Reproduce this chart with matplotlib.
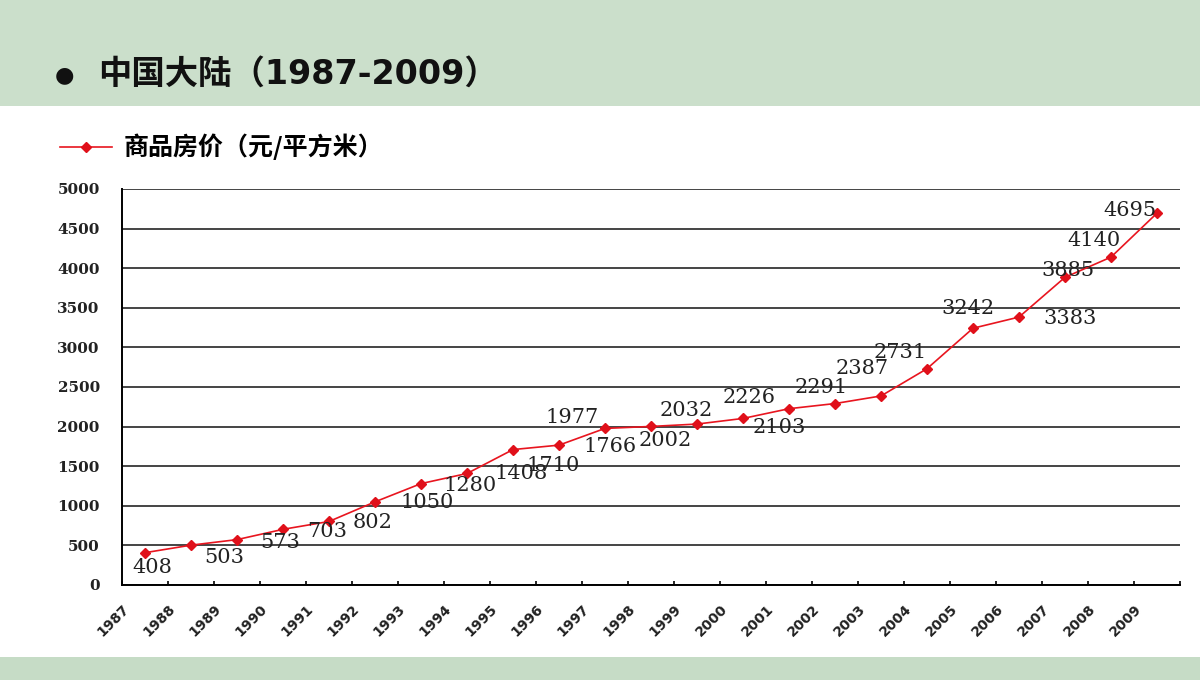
import numpy as np
import matplotlib.pyplot as plt
from matplotlib.patches import Rectangle

plt.rcParams['font.family'] = ['Noto Sans CJK SC', 'DejaVu Sans']

# data
years = [str(y) for y in range(1987, 2010)]
prices = [408, 503, 573, 703, 802, 1050, 1280, 1408, 1710, 1766, 1977, 2002,
          2032, 2103, 2226, 2291, 2387, 2731, 3242, 3383, 3885, 4140, 4695]
series_name = "商品房价（元/平方米）"
title = "中国大陆（1987-2009）"
yticks = list(range(0, 5001, 500))

# label offsets in pixels (dx right, dy down)
label_offsets = [(7, 15), (33, 12), (43, 3), (44, 2), (44, 1), (52, 1), (49, 2),
                 (54, 0), (40, 16), (51, 1), (-33, -11), (14, 14), (-11, -14),
                 (36, 9), (-40, -11), (-14, -16), (-19, -27), (-27, -16),
                 (-5, -20), (51, 1), (3, -7), (-17, -17), (-27, -3)]

fig = plt.figure(figsize=(12, 6.8), dpi=100)
fig.patch.set_facecolor('white')

# green bands top and bottom
fig.patches.append(Rectangle((0, 1 - 106 / 680), 1, 106 / 680, transform=fig.transFigure,
                             facecolor='#cbdfcb', edgecolor='none', zorder=0))
fig.patches.append(Rectangle((0, 0), 1, 23 / 680, transform=fig.transFigure,
                             facecolor='#c6dcc6', edgecolor='none', zorder=0))

fig.text(55 / 1200, 1 - 75 / 680, "●", fontsize=16, color='#111111', va='center', ha='left',
         family=['DejaVu Sans'])
fig.text(98 / 1200, 1 - 74 / 680, title, fontsize=24, fontweight='bold', color='#111111',
         va='center', ha='left', family=['DejaVu Sans', 'Noto Sans CJK SC'])

ax = fig.add_axes([122 / 1200, 1 - 585 / 680, 1058 / 1200, 396 / 680])
x = np.arange(len(prices)) + 0.5
line, = ax.plot(x, prices, color='#e8151f', lw=1.2, marker='D', markersize=5,
                markerfacecolor='#e0101a', markeredgecolor='#e0101a', label=series_name)

for xi, v, (dx, dy) in zip(x, prices, label_offsets):
    ax.annotate(str(v), (xi, v), xytext=(dx, -dy), textcoords='offset pixels',
                ha='center', va='center', fontsize=15, family=['DejaVu Serif'],
                color='#222222')

ax.set_xlim(0, len(prices))
ax.set_ylim(0, 5000)
ax.set_yticks(yticks)
ax.set_yticklabels([str(t) for t in yticks], family=['DejaVu Serif'], fontsize=11,
                   fontweight='bold', color='#222222')
ax.set_xticks(np.arange(len(prices) + 1))
ax.set_xticklabels(years + [''], rotation=45, ha='right', rotation_mode='anchor',
                   family=['DejaVu Sans'], fontsize=10, fontweight='bold', color='#222222')
ax.tick_params(axis='y', length=0, pad=16)
ax.tick_params(axis='x', direction='in', length=3, width=1.2, pad=12)
ax.grid(axis='y', color='#444444', lw=1.4)
ax.set_axisbelow(True)
for s in ['top', 'right']:
    ax.spines[s].set_visible(False)
ax.spines['left'].set_linewidth(1.4)
ax.spines['bottom'].set_linewidth(1.4)

fig.legend(handles=[line], loc='center left', bbox_to_anchor=(37 / 1200, 1 - 147 / 680),
           frameon=False, handlelength=2.1, handletextpad=0.45,
           prop={'family': ['Noto Sans CJK SC'], 'size': 18, 'weight': 'bold'})

fig.savefig('out.png', dpi=100)
